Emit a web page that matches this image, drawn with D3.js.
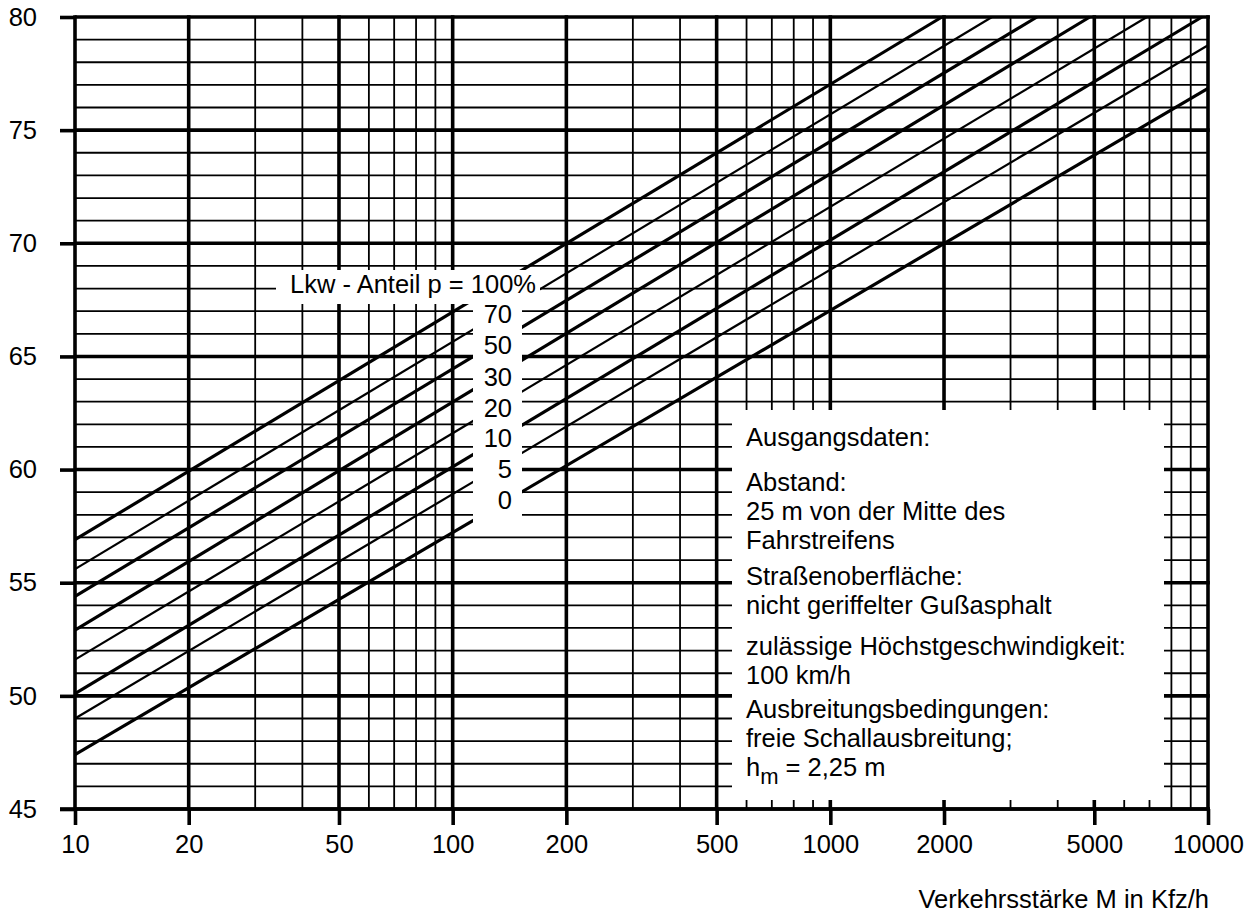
<!DOCTYPE html>
<html>
<head>
<meta charset="utf-8">
<script src="https://cdnjs.cloudflare.com/ajax/libs/d3/7.8.5/d3.min.js"></script>
<style>
  body { margin: 0; background: #fff; }
  #chart text { font-family: "Liberation Sans", Arial, sans-serif; font-size: 25.5px; fill: #000; }
</style>
</head>
<body>
<div id="chart"></div>
<script>
// ---- Values ----
const flowTicks = [10, 20, 50, 100, 200, 500, 1000, 2000, 5000, 10000];   // Kfz/h
const levelTicks = [45, 50, 55, 60, 65, 70, 75, 80];                      // dB(A)
const truckShares = [100, 70, 50, 30, 20, 10, 5, 0];                      // Lkw-Anteil p in %
const levelAt10 = [56.9, 55.6, 54.4, 52.9, 51.6, 50.1, 49.0, 47.4];       // level at M = 10
const endFlow = [1975, 2680, 3525, 4865, 6890, 9640, 10000, 10000];       // where each line leaves the chart
const endLevel = [80, 80, 80, 80, 80, 80, 78.75, 76.85];
const infoLines = [
  "Ausgangsdaten:",
  "Abstand:",
  "25 m von der Mitte des",
  "Fahrstreifens",
  "Straßenoberfläche:",
  "nicht geriffelter Gußasphalt",
  "zulässige Höchstgeschwindigkeit:",
  "100 km/h",
  "Ausbreitungsbedingungen:",
  "freie Schallausbreitung;"
];
const xTitle = "Verkehrsstärke M in Kfz/h";

// ---------- Layout ----------
const width = 1260, height = 915;
const plotLeft = 75, plotRight = 1208, plotTop = 17, plotBottom = 809;
const thin = 1.8, thick = 3.6;

const svg = d3.select("#chart").append("svg")
  .attr("width", width)
  .attr("height", height);

const x = d3.scaleLog().domain([10, 10000]).range([plotLeft, plotRight]);
const y = d3.scaleLinear().domain([45, 80]).range([plotBottom, plotTop]);

// leading digit 1, 2, 5 -> heavy grid line
const isMajorFlow = m => [1, 2, 5].includes(Math.round(m / Math.pow(10, Math.floor(Math.log10(m) + 1e-9))));

// ---------- Grid ----------
const grid = svg.append("g").attr("stroke", "#000");

grid.selectAll(".hminor")
  .data(d3.range(45, 81).filter(v => v % 5 !== 0))
  .enter().append("line")
  .attr("x1", plotLeft).attr("x2", plotRight)
  .attr("y1", d => y(d)).attr("y2", d => y(d))
  .attr("stroke-width", thin);

grid.selectAll(".vminor")
  .data(x.ticks().filter(m => !isMajorFlow(m)))
  .enter().append("line")
  .attr("x1", d => x(d)).attr("x2", d => x(d))
  .attr("y1", plotTop).attr("y2", plotBottom)
  .attr("stroke-width", thin);

// ---------- Level lines per truck share ----------
const lineGen = d3.line().x(d => x(d.m)).y(d => y(d.l));
const thinShares = new Set([70, 20, 5]);

svg.append("g")
  .selectAll("path")
  .data(truckShares.map((p, i) => ({
    p,
    pts: [{ m: 10, l: levelAt10[i] }, { m: endFlow[i], l: endLevel[i] }]
  })))
  .enter().append("path")
  .attr("d", d => lineGen(d.pts))
  .attr("fill", "none")
  .attr("stroke", "#000")
  .attr("stroke-width", d => thinShares.has(d.p) ? 2.2 : 3.2);

// heavy grid over the lines
const gridMajor = svg.append("g").attr("stroke", "#000").attr("stroke-width", thick);

gridMajor.selectAll(".hmajor")
  .data(levelTicks)
  .enter().append("line")
  .attr("x1", plotLeft).attr("x2", plotRight + thick / 2)
  .attr("y1", d => y(d)).attr("y2", d => y(d));

gridMajor.selectAll(".vmajor")
  .data(x.ticks().filter(isMajorFlow))
  .enter().append("line")
  .attr("x1", d => x(d)).attr("x2", d => x(d))
  .attr("y1", plotTop - thick / 2).attr("y2", plotBottom);

// ---------- White label panels ----------
const panels = [
  { x0: 276, x1: 540, y0: 270, y1: 304 },   // "Lkw - Anteil" caption
  { x0: 473, x1: 522, y0: 304, y1: 528 },   // share numbers
  { x0: 732, x1: 1164, y0: 410, y1: 800 }   // Ausgangsdaten
];
svg.append("g")
  .selectAll("rect")
  .data(panels)
  .enter().append("rect")
  .attr("x", d => d.x0).attr("y", d => d.y0)
  .attr("width", d => d.x1 - d.x0).attr("height", d => d.y1 - d.y0)
  .attr("fill", "#fff");

// ---------- Axes ----------
const xAxis = svg.append("g")
  .attr("transform", `translate(0, ${plotBottom})`)
  .call(d3.axisBottom(x).tickValues(flowTicks).tickSize(16).tickPadding(10).tickFormat(d3.format("d")));

const yAxis = svg.append("g")
  .attr("transform", `translate(${plotLeft}, 0)`)
  .call(d3.axisLeft(y).tickValues(levelTicks).tickSize(15).tickPadding(23));

[xAxis, yAxis].forEach(ax => {
  ax.attr("font-size", null).attr("font-family", null);
  ax.select(".domain").remove();
  ax.selectAll(".tick line").attr("stroke", "#000").attr("stroke-width", thick);
});

// bottom axis line across the info panel
svg.append("line")
  .attr("x1", plotLeft - 15).attr("x2", plotRight + thick / 2)
  .attr("y1", plotBottom).attr("y2", plotBottom)
  .attr("stroke", "#000").attr("stroke-width", thick);

svg.append("text")
  .attr("x", plotRight + 1)
  .attr("y", 908)
  .attr("text-anchor", "end")
  .text(xTitle);

// ---------- Share labels ----------
svg.append("text")
  .attr("x", 536)
  .attr("y", 293)
  .attr("text-anchor", "end")
  .text(`Lkw - Anteil p = ${truckShares[0]}%`);

const shareBaselines = [323, 354, 386, 417, 447, 478, 509];
svg.append("g")
  .selectAll("text")
  .data(truckShares.slice(1))
  .enter().append("text")
  .attr("x", 512)
  .attr("y", (d, i) => shareBaselines[i])
  .attr("text-anchor", "end")
  .text(d => d);

// ---------- Ausgangsdaten ----------
const infoBaselines = [446, 491, 520, 549, 585, 614, 655, 684, 718, 747];
svg.append("g")
  .selectAll("text")
  .data(infoLines)
  .enter().append("text")
  .attr("x", 746)
  .attr("y", (d, i) => infoBaselines[i])
  .text(d => d);

const hm = svg.append("text").attr("x", 746).attr("y", 776);
hm.append("tspan").text("h");
hm.append("tspan").attr("dy", 8).style("font-size", "22px").text("m");
hm.append("tspan").attr("dy", -8).text(" = 2,25 m");
</script>
</body>
</html>
